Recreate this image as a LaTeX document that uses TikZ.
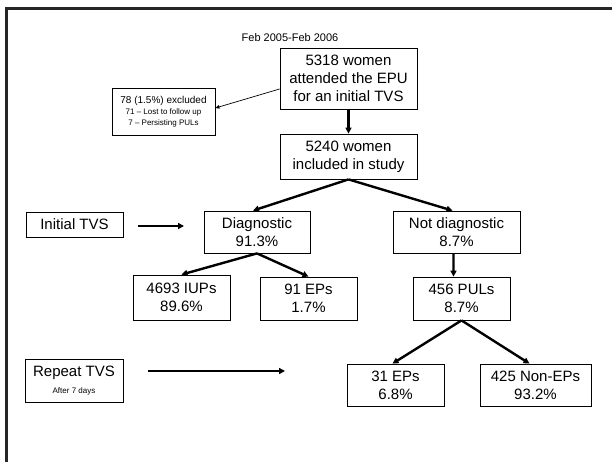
\documentclass[tikz,border=0pt]{standalone}
\usepackage{fontspec}
\setmainfont{Liberation Sans}
\usetikzlibrary{arrows.meta}
\begin{document}
\begin{tikzpicture}[x=1bp,y=-1bp,
  box/.style={draw=black, line width=0.8bp, fill=white, inner sep=0pt, align=center, font=\fontsize{15bp}{18bp}\selectfont},
  thick arrow/.style={line width=2.4bp, -{Triangle[length=6bp,width=6bp]}},
  thin arrow/.style={line width=0.7bp, -{Triangle[length=4bp,width=3.5bp]}}]
\useasboundingbox (0,0) rectangle (612,462);
\fill[white] (0,0) rectangle (612,462);
% frame
\draw[line width=3bp, black!85] (612,9) -- (6,9) -- (6,462);

\node (feb) at (290,38) {\fontsize{11bp}{13bp}\selectfont Feb 2005-Feb 2006};
\node[box, minimum width=137bp, minimum height=61bp] (n1) at (348.5,78.5) {5318 women\\attended the EPU\\for an initial TVS};
\node[box, minimum width=103bp, minimum height=47bp, font=\fontsize{10bp}{12bp}\selectfont] (excl) at (163.5,111.5)
  {78 (1.5\%) excluded\\[-1bp]{\fontsize{8bp}{11bp}\selectfont 71 – Lost to follow up}\\[-1bp]{\fontsize{8bp}{11bp}\selectfont 7 – Persisting PULs}};
\node[box, minimum width=137bp, minimum height=45bp] (n2) at (348.5,156.5) {5240 women\\included in study};

\node[box, minimum width=97bp, minimum height=25bp] (init) at (74.5,224.5) {Initial TVS};
\node[box, minimum width=106bp, minimum height=42bp] (diag) at (257,232) {Diagnostic\\91.3\%};
\node[box, minimum width=127bp, minimum height=42bp] (notd) at (456.5,232) {Not diagnostic\\8.7\%};

\node[box, minimum width=97bp, minimum height=45bp] (iup) at (181.5,297.5) {4693 IUPs\\89.6\%};
\node[box, minimum width=97bp, minimum height=43bp] (ep91) at (308.5,298.5) {91 EPs\\1.7\%};
\node[box, minimum width=97bp, minimum height=43bp] (pul) at (461.5,298.5) {456 PULs\\8.7\%};

\node[box, minimum width=98bp, minimum height=43bp] (rep) at (74,380.5) {Repeat TVS\\[-1bp]{\fontsize{8bp}{12bp}\selectfont After 7 days}};
\node[box, minimum width=97bp, minimum height=42bp] (ep31) at (395.5,385) {31 EPs\\6.8\%};
\node[box, minimum width=111bp, minimum height=42bp] (nonep) at (535.5,385) {425 Non-EPs\\93.2\%};

% free arrow ends
\coordinate (ia) at (138,226);
\coordinate (ib) at (184,226);
\coordinate (ra) at (148,371);
\coordinate (rb) at (285,371);

% connectors
\draw[thin arrow] (n1.west |- 0,89) -- (excl.east |- 0,108);
\draw[thick arrow] (n1.south) -- (n2.north);
\draw[thick arrow] (n2.south) -- ([xshift=-4bp]diag.north);
\draw[thick arrow] (n2.south) -- ([xshift=-4bp]notd.north);
\draw[thick arrow] (ia) -- (ib);
\draw[thick arrow] (diag.south) -- (iup.north);
\draw[thick arrow] (diag.south) -- (ep91.north);
\draw[thick arrow] ([xshift=-3bp]notd.south) -- ([xshift=-8bp]pul.north);
\draw[thick arrow] (pul.south) -- ([xshift=-3bp]ep31.north);
\draw[thick arrow] (pul.south) -- ([xshift=-6bp]nonep.north);
\draw[thick arrow] (ra) -- (rb);
\end{tikzpicture}
\end{document}
